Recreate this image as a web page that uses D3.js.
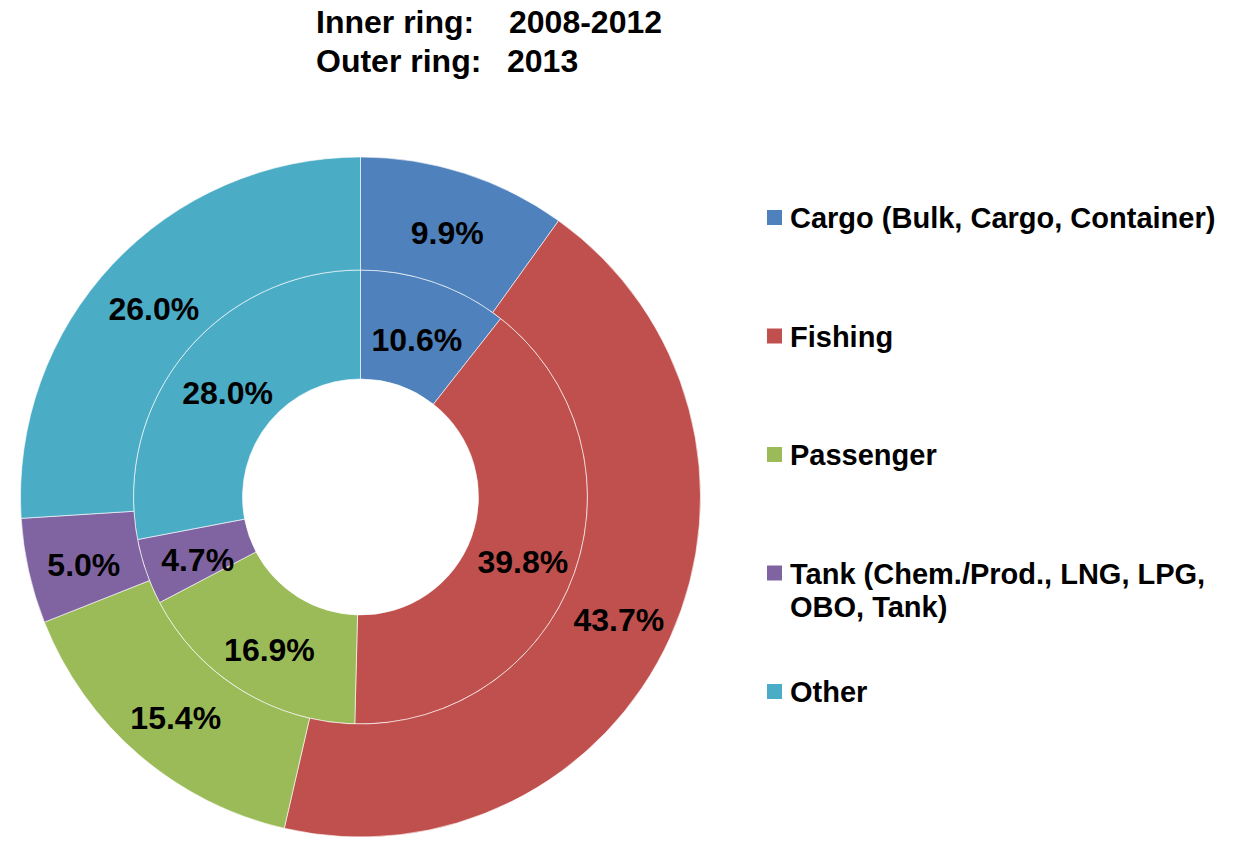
<!DOCTYPE html>
<html><head><meta charset="utf-8">
<script src="https://cdn.jsdelivr.net/npm/d3@7"></script>
<style>
html,body{margin:0;padding:0;background:#fff;}
svg text{font-family:"Liberation Sans",Arial,sans-serif;font-weight:bold;fill:#000;}
</style></head><body>
<svg id="chart" width="1233" height="843"></svg>
<script>
const categories = ["Cargo (Bulk, Cargo, Container)", "Fishing", "Passenger", "Tank (Chem./Prod., LNG, LPG, OBO, Tank)", "Other"];
const legendLines = [["Cargo (Bulk, Cargo, Container)"], ["Fishing"], ["Passenger"], ["Tank (Chem./Prod., LNG, LPG,", "OBO, Tank)"], ["Other"]];
const colors = ["#4F81BD", "#C0504D", "#9BBB59", "#8064A2", "#4BACC6"];
const inner2008_2012 = [10.6, 39.8, 16.9, 4.7, 28.0];
const outer2013 = [9.9, 43.7, 15.4, 5.0, 26.0];

const svg = d3.select("#chart");
const cx = 360.5, cy = 497;
const rHole = 118, rMid = 227, rOuter = 340;
const g = svg.append("g").attr("transform", `translate(${cx},${cy})`);
const pie = d3.pie().sort(null).value(d => d);

function ring(values, r0, r1, cls) {
  const arc = d3.arc().innerRadius(r0).outerRadius(r1);
  const arcs = pie(values);
  const gg = g.append("g").attr("class", cls);
  gg.selectAll("path").data(arcs).join("path")
    .attr("d", arc)
    .attr("fill", (d, i) => colors[i])
    .attr("stroke", "#ffffff").attr("stroke-opacity", 0.6).attr("stroke-width", 1);
  gg.selectAll("text").data(arcs).join("text")
    .attr("transform", d => `translate(${arc.centroid(d)})`)
    .attr("text-anchor", "middle").attr("dy", "0.54em")
    .style("font-size", "32px")
    .text(d => d.data.toFixed(1) + "%");
}
ring(inner2008_2012, rHole, rMid, "inner");
ring(outer2013, rMid, rOuter, "outer");

// title
const title = svg.append("g");
title.append("text").attr("x", 316).attr("y", 33).style("font-size", "32px").text("Inner ring:");
title.append("text").attr("x", 509).attr("y", 33).style("font-size", "32px").text("2008-2012");
title.append("text").attr("x", 316).attr("y", 72).style("font-size", "32px").text("Outer ring:");
title.append("text").attr("x", 507).attr("y", 72).style("font-size", "32px").text("2013");

// legend
const legendY = d3.scalePoint().domain(d3.range(categories.length)).range([228, 702]);
const lg = svg.append("g").selectAll("g").data(categories).join("g")
  .attr("transform", (d, i) => `translate(0,${legendY(i)})`);
lg.append("rect").attr("x", 767).attr("y", -18).attr("width", 15).attr("height", 15)
  .attr("fill", (d, i) => colors[i]);
lg.append("text").attr("x", 790).attr("y", 0).style("font-size", "29px")
  .selectAll("tspan").data((d, i) => legendLines[i]).join("tspan")
  .attr("x", 790).attr("dy", (d, j) => j === 0 ? 0 : 33).text(d => d);
</script>
</body></html>
